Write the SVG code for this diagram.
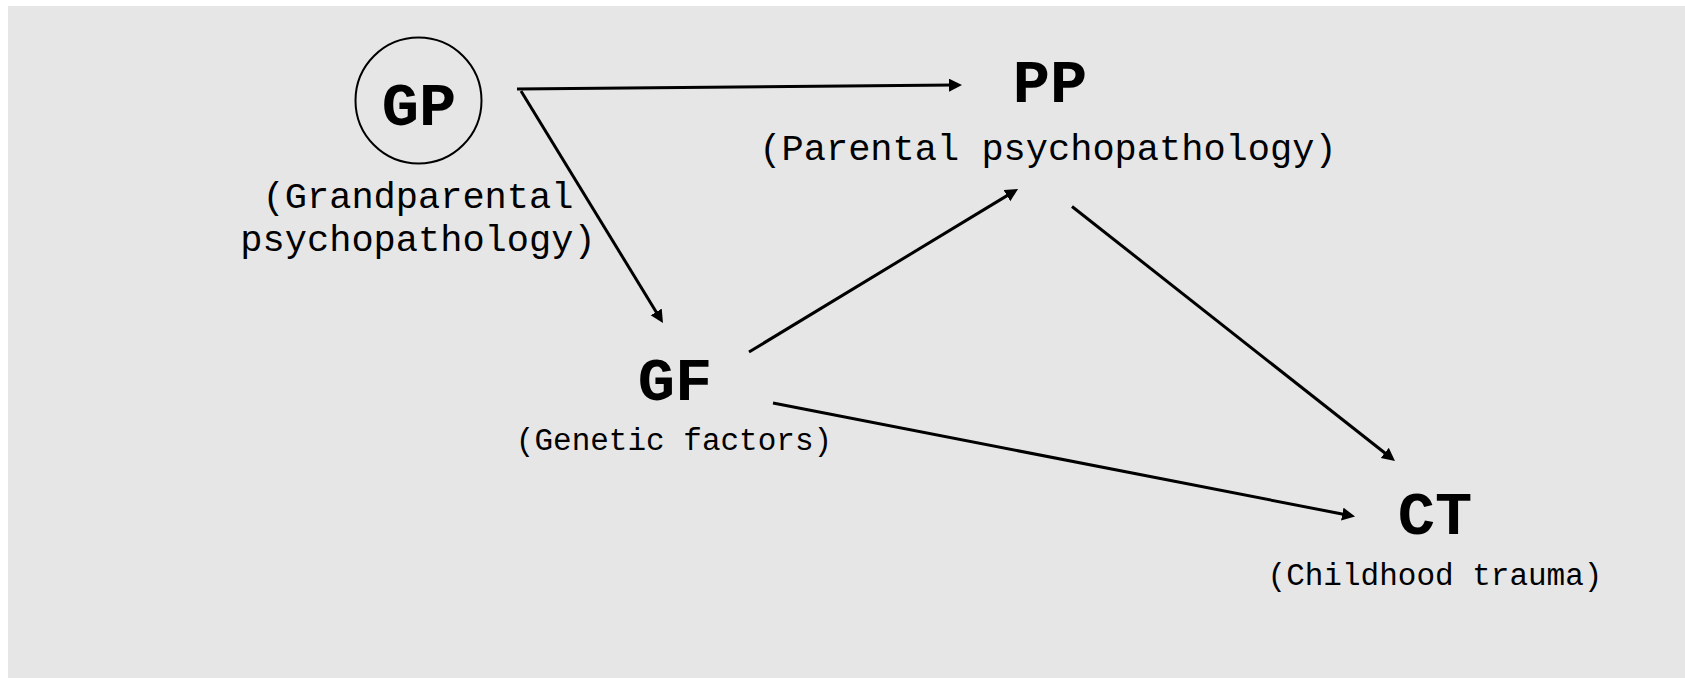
<svg xmlns="http://www.w3.org/2000/svg" width="1685" height="678" viewBox="0 0 1685 678">
<style>
.bg{fill:#e6e6e6}
.abbr{font-family:"Liberation Mono","Courier New",monospace;font-weight:bold;font-size:62px;fill:#000;text-anchor:middle}
.lbl{font-family:"Liberation Mono","Courier New",monospace;font-size:37px;fill:#000;text-anchor:middle}
.lbl2{font-family:"Liberation Mono","Courier New",monospace;font-size:31px;fill:#000;text-anchor:middle}
.edge{stroke:#000;stroke-width:3;fill:none;marker-end:url(#arr)}
</style>
<defs>
<marker id="arr" markerUnits="userSpaceOnUse" markerWidth="14" markerHeight="14" refX="5" refY="6.5" orient="auto">
<path d="M0,0 L13,6.5 L0,13 z" fill="#000"/>
</marker>
</defs>
<rect class="bg" x="8" y="6" width="1677" height="672"/>
<g id="connectors">
<line class="edge" x1="517" y1="89" x2="954" y2="85.1"/>
<line class="edge" x1="521" y1="91" x2="658.8" y2="316.2"/>
<line class="edge" x1="749" y1="352" x2="1011.2" y2="193.1"/>
<line class="edge" x1="1072" y1="206.5" x2="1388.7" y2="456"/>
<line class="edge" x1="773" y1="403" x2="1347.2" y2="515"/>
</g>
<g id="GP">
<circle cx="418.5" cy="100.5" r="63" fill="none" stroke="#000" stroke-width="2"/>
<text class="abbr" x="419" y="125">GP</text>
<text class="lbl" x="418" y="208">(Grandparental</text>
<text class="lbl" x="418" y="251">psychopathology)</text>
</g>
<g id="PP">
<text class="abbr" x="1050" y="102">PP</text>
<text class="lbl" x="1048" y="160">(Parental psychopathology)</text>
</g>
<g id="GF">
<text class="abbr" x="675" y="400">GF</text>
<text class="lbl2" x="674" y="450">(Genetic factors)</text>
</g>
<g id="CT">
<text class="abbr" x="1435" y="534">CT</text>
<text class="lbl2" x="1435" y="585">(Childhood trauma)</text>
</g>
</svg>
